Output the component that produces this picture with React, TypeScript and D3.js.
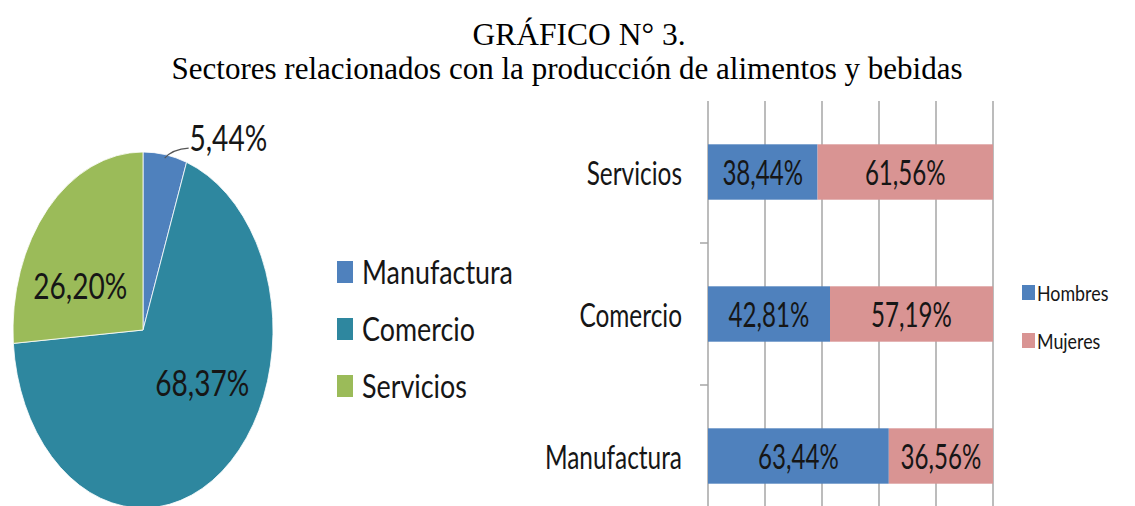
import React from "react";
import * as d3 from "d3";

const title1 = "GRÁFICO N° 3.";
const title2 = "Sectores relacionados con la producción de alimentos y bebidas";

const pieCategories = ["Manufactura", "Comercio", "Servicios"];
const pieValues = [5.44, 68.37, 26.2];
const pieLabels = ["5,44%", "68,37%", "26,20%"];
const pieColors = ["#4F81BD", "#2E879F", "#9BBB59"];

const barCategories = ["Servicios", "Comercio", "Manufactura"];
const hombres = [38.44, 42.81, 63.44];
const mujeres = [61.56, 57.19, 36.56];
const hombresLabels = ["38,44%", "42,81%", "63,44%"];
const mujeresLabels = ["61,56%", "57,19%", "36,56%"];
const seriesNames = ["Hombres", "Mujeres"];
const seriesColors = ["#4F81BD", "#D99493"];
const xTicks = [0, 20, 40, 60, 80, 100];

const W = 1135;
const H = 506;
const FONT = "Lato, 'Open Sans', sans-serif";
const SERIF = "'Liberation Serif', 'Times New Roman', serif";

type STProps = {
  x: number;
  y: number;
  sx: number;
  size: number;
  anchor?: "start" | "middle" | "end";
  family?: string;
  fill?: string;
  central?: boolean;
  children: React.ReactNode;
};

function SText({ x, y, sx, size, anchor = "start", family = FONT, fill = "#161616", central = true, children }: STProps) {
  return (
    <text
      transform={`translate(${x},${y}) scale(${sx},1)`}
      textAnchor={anchor}
      dominantBaseline={central ? "central" : "auto"}
      fontFamily={family}
      fontSize={size}
      fill={fill}
    >
      {children}
    </text>
  );
}

export default function App() {
  // Pie (elliptical)
  const cx = 143, cy = 330, rx = 130, ry = 178;
  const pie = d3.pie<number>().sort(null).value((d) => d)(pieValues);
  const arc = d3.arc<d3.PieArcDatum<number>>().innerRadius(0).outerRadius(rx);
  const sy = ry / rx;

  // Bars
  const x = d3.scaleLinear().domain([0, 100]).range([708, 993]);
  const y = d3
    .scaleBand<string>()
    .domain(barCategories)
    .range([101, 527])
    .paddingInner(0.61)
    .paddingOuter(0.305);
  const step = y.step();

  const labelPos = (d: d3.PieArcDatum<number>, i: number) => {
    const mid = (d.startAngle + d.endAngle) / 2;
    if (i === 0) {
      const r = 1.1;
      return { x: cx + rx * r * Math.sin(mid) + 61, y: cy - ry * r * Math.cos(mid) };
    }
    return { x: cx + rx * 0.7 * Math.sin(mid) + 4, y: cy - ry * 0.37 * Math.cos(mid) };
  };

  const m = pie[0];
  const mMid = (m.startAngle + m.endAngle) / 2;
  const lx0 = cx + rx * 0.98 * Math.sin(mMid);
  const ly0 = cy - ry * 0.98 * Math.cos(mMid);

  return (
    <svg
      width={W}
      height={H}
      style={{ position: "absolute", left: 0, top: 0, background: "#fff" }}
    >
      <rect x={0} y={0} width={W} height={H} fill="#fff" />
      <SText x={579} y={45} sx={0.985} size={32} anchor="middle" family={SERIF} fill="#000" central={false}>
        {title1}
      </SText>
      <SText x={567} y={79} sx={0.97} size={32} anchor="middle" family={SERIF} fill="#000" central={false}>
        {title2}
      </SText>

      {/* Pie */}
      <g transform={`translate(${cx},${cy}) scale(1,${sy})`}>
        {pie.map((d, i) => (
          <path
            key={i}
            d={arc(d) || ""}
            fill={pieColors[i]}
            stroke="#fff"
            strokeWidth={0.8}
            vectorEffect="non-scaling-stroke"
          />
        ))}
      </g>
      <path
        d={`M${lx0},${ly0}Q${lx0 + 8},${ly0 - 9} ${lx0 + 24},${ly0 - 10}`}
        fill="none"
        stroke="#555"
        strokeWidth={1.2}
      />
      {pie.map((d, i) => {
        const p = labelPos(d, i);
        return (
          <SText key={i} x={p.x} y={p.y} sx={0.78} size={36} anchor="middle">
            {pieLabels[i]}
          </SText>
        );
      })}

      {/* Pie legend */}
      {pieCategories.map((c, i) => (
        <g key={c}>
          <rect x={337} y={261 + i * 57} width={16} height={22} fill={pieColors[i]} />
          <SText x={362} y={272 + i * 57} sx={0.84} size={32}>
            {c}
          </SText>
        </g>
      ))}

      {/* Bar chart gridlines */}
      {xTicks.map((t) => (
        <line key={t} x1={x(t)} x2={x(t)} y1={101} y2={H} stroke="#A6A6A6" strokeWidth={1.5} />
      ))}
      {barCategories.map((c, i) => {
        const yb = (y(c) as number) - (y.paddingInner() * step) / 2;
        return i > 0 ? (
          <line key={c} x1={700} x2={708} y1={yb} y2={yb} stroke="#A6A6A6" strokeWidth={1.5} />
        ) : null;
      })}

      {/* Bars */}
      {barCategories.map((c, i) => {
        const yy = y(c) as number;
        const bw = y.bandwidth();
        return (
          <g key={c}>
            <rect x={x(0)} y={yy} width={x(hombres[i]) - x(0)} height={bw} fill={seriesColors[0]} />
            <rect x={x(hombres[i])} y={yy} width={x(hombres[i] + mujeres[i]) - x(hombres[i])} height={bw} fill={seriesColors[1]} />
            <SText x={(x(0) + x(hombres[i])) / 2} y={yy + bw / 2} sx={0.71} size={34} anchor="middle">
              {hombresLabels[i]}
            </SText>
            <SText x={(x(hombres[i]) + x(hombres[i] + mujeres[i])) / 2} y={yy + bw / 2} sx={0.71} size={34} anchor="middle">
              {mujeresLabels[i]}
            </SText>
            <SText x={682} y={yy + bw / 2} sx={0.74} size={33} anchor="end">
              {c}
            </SText>
          </g>
        );
      })}

      {/* Bar legend */}
      {seriesNames.map((s, i) => (
        <g key={s}>
          <rect x={1022} y={285 + i * 48} width={13} height={15} fill={seriesColors[i]} />
          <SText x={1037} y={292.5 + i * 48} sx={0.85} size={21}>
            {s}
          </SText>
        </g>
      ))}
    </svg>
  );
}
